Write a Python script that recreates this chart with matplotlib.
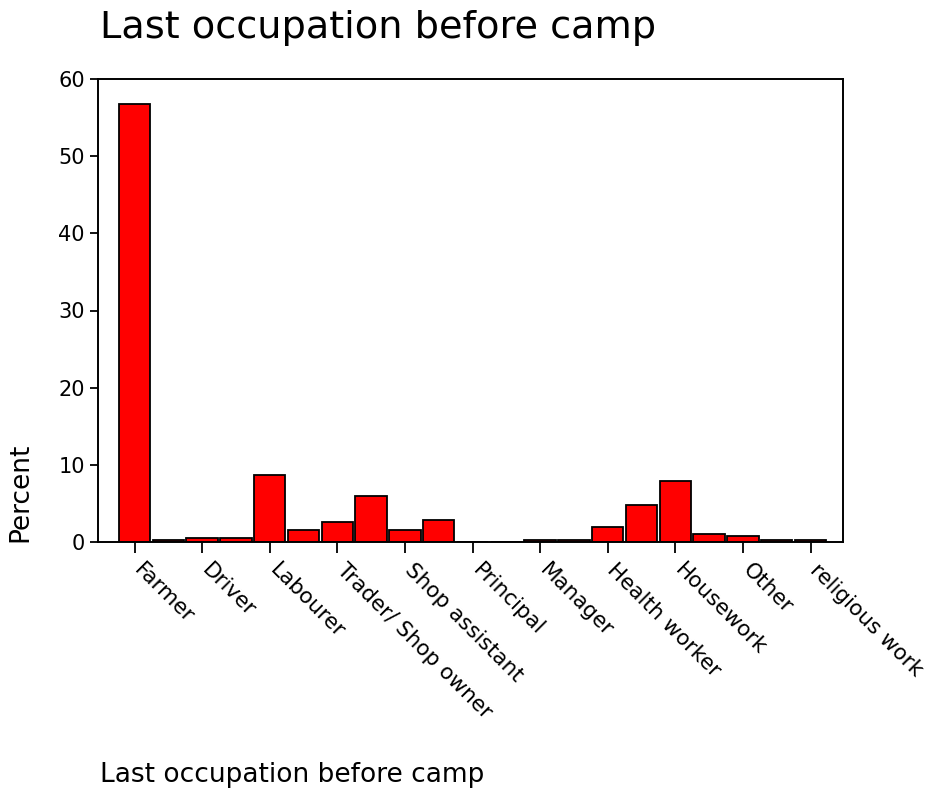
import matplotlib
matplotlib.use('Agg')
import matplotlib.pyplot as plt
import matplotlib.transforms as mtransforms

# 21 categories, only every other one carries a visible label
categories = ['Farmer', '', 'Driver', '', 'Labourer', '', 'Trader/ Shop owner', '',
              'Shop assistant', '', 'Principal', '', 'Manager', '', 'Health worker', '',
              'Housework', '', 'Other', '', 'religious work']
percent = [56.8, 0.2, 0.5, 0.5, 8.7, 1.6, 2.55, 5.9, 1.6, 2.8, 0.0,
           0.0, 0.2, 0.2, 1.95, 4.75, 7.9, 1.1, 0.8, 0.2, 0.2]
y_ticks = [0, 10, 20, 30, 40, 50, 60]


def main():
    plt.rcParams['font.family'] = 'DejaVu Sans'
    fig = plt.figure(figsize=(9.34, 7.95), dpi=100)
    ax = fig.add_axes([98 / 934, 1 - 542 / 795, 745 / 934, 463 / 795])

    x = list(range(len(percent)))
    ax.bar(x, percent, width=0.93, color='#ff0000', edgecolor='black', linewidth=1.3)

    ax.set_xlim(-1.08, 20.96)
    ax.set_ylim(0, 60)
    ax.set_yticks(y_ticks)
    ax.tick_params(axis='y', labelsize=15, length=6, width=1.3)

    # ticks only where there is a label
    shown = [i for i in x if categories[i] != '']
    ax.set_xticks(shown)
    ax.set_xticklabels([categories[i] for i in shown], rotation=-45, ha='left',
                       va='top', rotation_mode='anchor', fontsize=15.5)
    ax.tick_params(axis='x', length=8, width=1.3, pad=5)
    shift = mtransforms.ScaledTranslation(0.1, 0, fig.dpi_scale_trans)
    for lab in ax.get_xticklabels():
        lab.set_transform(lab.get_transform() + shift)

    for s in ax.spines.values():
        s.set_linewidth(1.4)

    ax.set_ylabel('Percent', fontsize=19, loc='bottom', labelpad=18)
    fig.text(100 / 934, 1 - 28 / 795, 'Last occupation before camp', fontsize=27.5,
             ha='left', va='center')
    fig.text(100 / 934, 1 - 775 / 795, 'Last occupation before camp', fontsize=19,
             ha='left', va='center')

    fig.savefig('out.png', dpi=100)


if __name__ == '__main__':
    main()
